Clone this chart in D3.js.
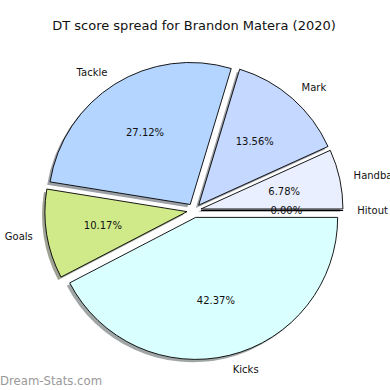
<!DOCTYPE html>
<html>
<head>
<meta charset="utf-8">
<script src="https://cdn.jsdelivr.net/npm/d3@7"></script>
<style>
  body { margin: 0; background: #fff; }
  text { font-family: "DejaVu Sans", sans-serif; }
</style>
</head>
<body>
<div id="chart"></div>
<script>
// Data (DT points per stat)
const categories = ['Hitout', 'Handball', 'Mark', 'Tackle', 'Goals', 'Kicks']
const dtPoints = [0, 12, 24, 48, 18, 75]
const sliceColors = ['#d0d0d0', '#e9effe', '#c5d8ff', '#b4d5ff', '#d0ea8a', '#daffff']
const title = 'DT score spread for Brandon Matera (2020)'

function draw() {
  const width = 390
  const height = 390
  const cx = 194
  const cy = 210.5
  const radius = 142
  const explode = 0.05 * radius
  const shadowOff = 0.02 * radius

  const svg = d3
    .select('#chart')
    .append('svg')
    .attr('width', width)
    .attr('height', height)

  svg
    .append('text')
    .attr('x', cx)
    .attr('y', 30)
    .attr('text-anchor', 'middle')
    .style('font-size', '13px')
    .attr('fill', '#111')
    .text(title)

  const total = d3.sum(dtPoints)
  const pct = d3.format('.2%')

  // matplotlib style: start at 3 o'clock, go counter-clockwise
  const pie = d3
    .pie()
    .sort(null)
    .value((d) => d)
    .startAngle(Math.PI / 2)
    .endAngle(Math.PI / 2 - 2 * Math.PI)

  const arcs = pie(dtPoints).map((a, i) => {
    const mid = (a.startAngle + a.endAngle) / 2
    return {
      ...a,
      i,
      mid,
      ox: explode * Math.sin(mid),
      oy: -explode * Math.cos(mid),
    }
  })

  const arc = d3.arc().innerRadius(0).outerRadius(radius)

  const ctr = svg.append('g').attr('transform', `translate(${cx}, ${cy})`)

  const shade = (c) => {
    const rgb = d3.rgb(c)
    // 0.3 * facecolor at alpha 0.5 on white
    return d3.rgb(
      rgb.r * 0.15 + 127.5,
      rgb.g * 0.15 + 127.5,
      rgb.b * 0.15 + 127.5
    )
  }

  // Shadows
  ctr
    .selectAll('.shadow')
    .data(arcs)
    .join('path')
    .attr('class', 'shadow')
    .attr('d', arc)
    .attr('transform', (d) => `translate(${d.ox - shadowOff}, ${d.oy + shadowOff})`)
    .attr('fill', (d) => shade(sliceColors[d.i]))

  // Wedges
  ctr
    .selectAll('.wedge')
    .data(arcs)
    .join('path')
    .attr('class', 'wedge')
    .attr('d', arc)
    .attr('transform', (d) => `translate(${d.ox}, ${d.oy})`)
    .attr('fill', (d) => sliceColors[d.i])
    .attr('stroke', '#000')
    .attr('stroke-width', 0.9)
    .attr('stroke-linejoin', 'round')

  // Category labels
  ctr
    .selectAll('.label')
    .data(arcs)
    .join('text')
    .attr('class', 'label')
    .attr('x', (d) => d.ox + 1.1 * radius * Math.sin(d.mid))
    .attr('y', (d) => d.oy - 1.1 * radius * Math.cos(d.mid))
    .attr('dy', '0.35em')
    .attr('text-anchor', (d) => (Math.sin(d.mid) > 0 ? 'start' : 'end'))
    .style('font-size', '10px')
    .attr('fill', '#111')
    .text((d) => categories[d.i])

  // Percent labels
  ctr
    .selectAll('.pct')
    .data(arcs)
    .join('text')
    .attr('class', 'pct')
    .attr('x', (d) => d.ox + 0.6 * radius * Math.sin(d.mid))
    .attr('y', (d) => d.oy - 0.6 * radius * Math.cos(d.mid))
    .attr('dy', '0.35em')
    .attr('text-anchor', 'middle')
    .style('font-size', '10px')
    .attr('fill', '#111')
    .text((d) => pct(d.data / total))

  // Watermark
  svg
    .append('text')
    .attr('x', 0)
    .attr('y', 385)
    .style('font-size', '11.7px')
    .attr('fill', '#999')
    .text('Dream-Stats.com')
}

draw()
</script>
</body>
</html>
